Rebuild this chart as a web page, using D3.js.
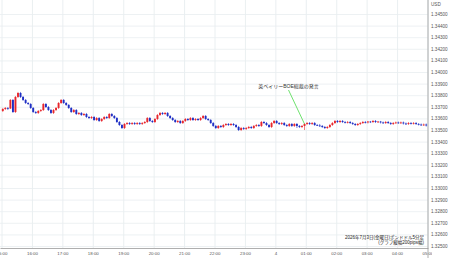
<!DOCTYPE html>
<html>
<head>
<meta charset="utf-8">
<script src="https://cdn.jsdelivr.net/npm/d3@7"></script>
<style>
  html, body { margin: 0; padding: 0; background: #fff; }
  svg { display: block; }
  text { font-family: "Liberation Sans", "Noto Sans CJK JP", sans-serif; }
</style>
</head>
<body>
<div id="chart"></div>
<script>
// GBP/USD 5-minute candles, 2026-07-03 15:00 -> 2026-07-04 04:55
const firstCandle = new Date(2026, 6, 3, 15, 0);
const candleMinutes = 5;

const opens = [
  1.33664,1.33681,1.33690,1.33685,1.33759,1.33655,1.33785,1.33819,1.33785,1.33759,1.33733,1.33724,
  1.33690,1.33655,1.33647,1.33664,1.33672,1.33724,1.33698,1.33672,1.33647,1.33672,1.33690,1.33733,
  1.33759,1.33733,1.33716,1.33690,1.33655,1.33672,1.33638,1.33647,1.33629,1.33638,1.33612,1.33603,
  1.33612,1.33586,1.33603,1.33578,1.33595,1.33612,1.33603,1.33638,1.33621,1.33603,1.33569,1.33543,
  1.33517,1.33552,1.33560,1.33552,1.33560,1.33552,1.33560,1.33552,1.33560,1.33569,1.33603,1.33578,
  1.33569,1.33595,1.33629,1.33647,1.33638,1.33647,1.33621,1.33603,1.33586,1.33569,1.33578,1.33560,
  1.33578,1.33595,1.33586,1.33603,1.33586,1.33595,1.33586,1.33603,1.33621,1.33595,1.33586,1.33560,
  1.33535,1.33517,1.33535,1.33526,1.33543,1.33552,1.33543,1.33552,1.33543,1.33526,1.33500,1.33517,
  1.33509,1.33517,1.33526,1.33517,1.33535,1.33543,1.33535,1.33569,1.33560,1.33543,1.33526,1.33560,
  1.33578,1.33560,1.33552,1.33560,1.33543,1.33535,1.33552,1.33535,1.33552,1.33535,1.33526,1.33535,
  1.33552,1.33560,1.33552,1.33560,1.33543,1.33539,1.33535,1.33526,1.33517,1.33526,1.33543,1.33560,
  1.33578,1.33569,1.33578,1.33569,1.33565,1.33569,1.33560,1.33552,1.33543,1.33552,1.33560,1.33569,
  1.33565,1.33573,1.33569,1.33578,1.33569,1.33573,1.33565,1.33560,1.33569,1.33560,1.33552,1.33560,
  1.33565,1.33560,1.33565,1.33556,1.33552,1.33560,1.33556,1.33560,1.33552,1.33547,1.33543,1.33547
];
const highs = [
  1.33690,1.33698,1.33698,1.33767,1.33767,1.33793,1.33828,1.33828,1.33793,1.33767,1.33741,1.33733,
  1.33698,1.33664,1.33672,1.33681,1.33733,1.33733,1.33707,1.33681,1.33681,1.33698,1.33741,1.33767,
  1.33767,1.33741,1.33724,1.33698,1.33681,1.33681,1.33655,1.33655,1.33647,1.33647,1.33621,1.33621,
  1.33621,1.33612,1.33612,1.33603,1.33621,1.33621,1.33647,1.33647,1.33629,1.33612,1.33578,1.33552,
  1.33560,1.33569,1.33569,1.33569,1.33569,1.33569,1.33569,1.33569,1.33578,1.33612,1.33612,1.33586,
  1.33603,1.33638,1.33655,1.33655,1.33655,1.33655,1.33629,1.33612,1.33595,1.33586,1.33586,1.33586,
  1.33603,1.33603,1.33612,1.33612,1.33603,1.33603,1.33612,1.33629,1.33629,1.33603,1.33595,1.33569,
  1.33543,1.33543,1.33543,1.33552,1.33560,1.33560,1.33560,1.33560,1.33552,1.33535,1.33526,1.33526,
  1.33526,1.33535,1.33535,1.33543,1.33552,1.33552,1.33578,1.33578,1.33569,1.33552,1.33569,1.33586,
  1.33586,1.33569,1.33569,1.33569,1.33552,1.33560,1.33560,1.33560,1.33560,1.33543,1.33543,1.33560,
  1.33569,1.33569,1.33569,1.33569,1.33552,1.33552,1.33543,1.33535,1.33535,1.33552,1.33569,1.33586,
  1.33586,1.33586,1.33586,1.33578,1.33578,1.33578,1.33569,1.33560,1.33560,1.33569,1.33578,1.33578,
  1.33578,1.33578,1.33586,1.33586,1.33578,1.33578,1.33573,1.33578,1.33578,1.33569,1.33569,1.33573,
  1.33573,1.33573,1.33573,1.33565,1.33569,1.33569,1.33569,1.33569,1.33560,1.33556,1.33556,1.33556
];
const lows = [
  1.33655,1.33672,1.33672,1.33681,1.33647,1.33647,1.33776,1.33776,1.33750,1.33724,1.33716,1.33681,
  1.33647,1.33638,1.33638,1.33655,1.33664,1.33690,1.33664,1.33638,1.33638,1.33664,1.33681,1.33724,
  1.33724,1.33707,1.33681,1.33647,1.33647,1.33629,1.33629,1.33621,1.33621,1.33603,1.33595,1.33595,
  1.33578,1.33578,1.33569,1.33569,1.33586,1.33595,1.33595,1.33612,1.33595,1.33560,1.33535,1.33509,
  1.33509,1.33543,1.33543,1.33543,1.33543,1.33543,1.33543,1.33543,1.33552,1.33560,1.33569,1.33560,
  1.33560,1.33586,1.33621,1.33629,1.33629,1.33612,1.33595,1.33578,1.33560,1.33560,1.33552,1.33552,
  1.33569,1.33578,1.33578,1.33578,1.33578,1.33578,1.33578,1.33595,1.33586,1.33578,1.33552,1.33526,
  1.33509,1.33509,1.33517,1.33517,1.33535,1.33535,1.33535,1.33535,1.33517,1.33491,1.33491,1.33500,
  1.33500,1.33509,1.33509,1.33509,1.33526,1.33526,1.33526,1.33552,1.33535,1.33517,1.33517,1.33552,
  1.33552,1.33543,1.33543,1.33535,1.33526,1.33526,1.33526,1.33526,1.33517,1.33517,1.33517,1.33500,
  1.33543,1.33543,1.33543,1.33535,1.33535,1.33526,1.33517,1.33509,1.33509,1.33517,1.33535,1.33552,
  1.33560,1.33560,1.33560,1.33556,1.33556,1.33552,1.33543,1.33535,1.33535,1.33543,1.33552,1.33556,
  1.33556,1.33560,1.33560,1.33560,1.33560,1.33556,1.33552,1.33552,1.33552,1.33543,1.33543,1.33552,
  1.33552,1.33552,1.33547,1.33543,1.33543,1.33547,1.33547,1.33543,1.33539,1.33535,1.33535,1.33530
];
const closes = [
  1.33681,1.33690,1.33685,1.33759,1.33655,1.33785,1.33819,1.33785,1.33759,1.33733,1.33724,1.33690,
  1.33655,1.33647,1.33664,1.33672,1.33724,1.33698,1.33672,1.33647,1.33672,1.33690,1.33733,1.33759,
  1.33733,1.33716,1.33690,1.33655,1.33672,1.33638,1.33647,1.33629,1.33638,1.33612,1.33603,1.33612,
  1.33586,1.33603,1.33578,1.33595,1.33612,1.33603,1.33638,1.33621,1.33603,1.33569,1.33543,1.33517,
  1.33552,1.33560,1.33552,1.33560,1.33552,1.33560,1.33552,1.33560,1.33569,1.33603,1.33578,1.33569,
  1.33595,1.33629,1.33647,1.33638,1.33647,1.33621,1.33603,1.33586,1.33569,1.33578,1.33560,1.33578,
  1.33595,1.33586,1.33603,1.33586,1.33595,1.33586,1.33603,1.33621,1.33595,1.33586,1.33560,1.33535,
  1.33517,1.33535,1.33526,1.33543,1.33552,1.33543,1.33552,1.33543,1.33526,1.33500,1.33517,1.33509,
  1.33517,1.33526,1.33517,1.33535,1.33543,1.33535,1.33569,1.33560,1.33543,1.33526,1.33560,1.33578,
  1.33560,1.33552,1.33560,1.33543,1.33535,1.33552,1.33535,1.33552,1.33535,1.33526,1.33535,1.33552,
  1.33560,1.33552,1.33560,1.33543,1.33539,1.33535,1.33526,1.33517,1.33526,1.33543,1.33560,1.33578,
  1.33569,1.33578,1.33569,1.33565,1.33569,1.33560,1.33552,1.33543,1.33552,1.33560,1.33569,1.33565,
  1.33573,1.33569,1.33578,1.33569,1.33573,1.33565,1.33560,1.33569,1.33560,1.33552,1.33560,1.33565,
  1.33560,1.33565,1.33556,1.33552,1.33560,1.33556,1.33560,1.33552,1.33547,1.33543,1.33547,1.33539
];

const priceTicks = [
  1.325, 1.326, 1.327, 1.328, 1.329, 1.330, 1.331, 1.332, 1.333, 1.334, 1.335,
  1.336, 1.337, 1.338, 1.339, 1.340, 1.341, 1.342, 1.343, 1.344, 1.345
];
const currencyLabel = 'USD';

// annotation: the candle the comment points to
const noteIndex = 119;
const noteText = '英ベイリーBOE総裁の発言';
const captionLines = ['2026年7月3日(金曜日)ポンドドル5分足', '(グラフ縦幅200pips幅)'];

const width = 450, height = 258;
const plotRight = 428, plotBottom = 248;
const upColor = '#e8262c', downColor = '#1f2fc4';

const candles = closes.map((c, i) => ({
  time: d3.timeMinute.offset(firstCandle, i * candleMinutes),
  open: opens[i], high: highs[i], low: lows[i], close: c
}));

const svg = d3.select('#chart').append('svg')
  .attr('width', width)
  .attr('height', height);

const x = d3.scaleTime()
  .domain([new Date(2026, 6, 3, 14, 57), new Date(2026, 6, 4, 5, 1)])
  .range([0, plotRight]);

const y = d3.scaleLinear()
  .domain([1.325, 1.345])
  .range([246, 14]);

const hourly = d3.timeHour.every(1);

// grid
svg.append('g')
  .attr('transform', `translate(0,${plotBottom})`)
  .call(d3.axisBottom(x).ticks(hourly).tickSize(-plotBottom).tickFormat(''))
  .call(g => g.select('.domain').remove())
  .call(g => g.selectAll('line').attr('stroke', '#e4ebee').attr('stroke-width', 0.8));

svg.append('g')
  .call(d3.axisRight(y).tickValues(priceTicks).tickSize(plotRight).tickFormat(''))
  .call(g => g.select('.domain').remove())
  .call(g => g.selectAll('line').attr('stroke', '#e8eef0').attr('stroke-width', 0.8));

// candles
const bodyW = 1.9;
const half = candleMinutes / 2;
const mid = d => x(d3.timeSecond.offset(d.time, half * 60));

const cg = svg.append('g');
cg.selectAll('line.wick')
  .data(candles)
  .join('line')
  .attr('class', 'wick')
  .attr('x1', mid).attr('x2', mid)
  .attr('y1', d => y(d.high)).attr('y2', d => y(d.low))
  .attr('stroke', d => d.close >= d.open ? upColor : downColor)
  .attr('stroke-width', 0.6);

cg.selectAll('rect.body')
  .data(candles)
  .join('rect')
  .attr('class', 'body')
  .attr('x', d => mid(d) - bodyW / 2)
  .attr('width', bodyW)
  .attr('y', d => y(Math.max(d.open, d.close)))
  .attr('height', d => Math.max(0.8, Math.abs(y(d.open) - y(d.close))))
  .attr('fill', d => d.close >= d.open ? upColor : downColor);

// annotation
const target = candles[noteIndex];
svg.append('line')
  .attr('x1', mid(target) - 16).attr('y1', 90)
  .attr('x2', mid(target)).attr('y2', y(target.low) - 6)
  .attr('stroke', '#5ede5e')
  .attr('stroke-width', 0.9);

svg.append('text')
  .attr('x', mid(target) - 16)
  .attr('y', 88)
  .attr('text-anchor', 'middle')
  .attr('font-size', 5)
  .attr('fill', '#333')
  .text(noteText);

// axes
const fmtHour = d => d.getHours() === 0 ? String(d.getDate()) : d3.timeFormat('%H:%M')(d);

svg.append('defs').append('clipPath').attr('id', 'xclip')
  .append('rect').attr('x', 0).attr('y', 0).attr('width', 432).attr('height', height);

svg.append('g')
  .attr('clip-path', 'url(#xclip)')
  .attr('transform', `translate(0,${plotBottom})`)
  .call(d3.axisBottom(x).ticks(hourly).tickSize(0).tickPadding(4).tickFormat(fmtHour))
  .call(g => g.select('.domain').attr('stroke', '#9a9a9a').attr('stroke-width', 0.8))
  .call(g => g.selectAll('text').attr('font-size', 4.4).attr('fill', '#555').attr('font-family', null));

svg.append('g')
  .attr('transform', `translate(${plotRight},0)`)
  .call(d3.axisRight(y).tickValues(priceTicks).tickSize(0).tickPadding(3).tickFormat(d3.format('.5f')))
  .call(g => g.select('.domain').remove())
  .call(g => g.selectAll('text').attr('font-size', 4.6).attr('fill', '#555').attr('font-family', null));

svg.append('line')
  .attr('x1', plotRight).attr('x2', plotRight)
  .attr('y1', 0).attr('y2', height)
  .attr('stroke', '#9a9a9a').attr('stroke-width', 0.8);

svg.append('text')
  .attr('x', plotRight + 3).attr('y', 6)
  .attr('font-size', 4.6).attr('fill', '#555')
  .text(currencyLabel);

// caption
svg.append('g')
  .selectAll('text')
  .data(captionLines)
  .join('text')
  .attr('x', 424)
  .attr('y', (d, i) => 239 + i * 5)
  .attr('text-anchor', 'end')
  .attr('font-size', 4.5)
  .attr('fill', '#222')
  .text(d => d);
</script>
</body>
</html>
